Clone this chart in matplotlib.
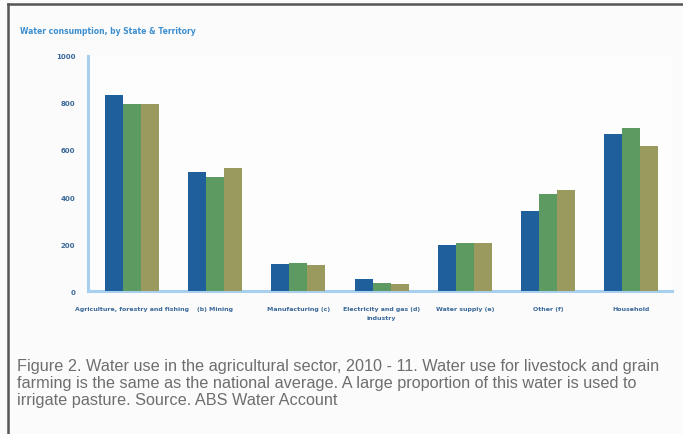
import numpy as np
import matplotlib.pyplot as plt
from matplotlib.lines import Line2D

# Water consumption by sector, three years
categories = ['Agriculture, forestry and fishing', '(b) Mining', 'Manufacturing (c)',
              'Electricity and gas (d)\nindustry', 'Water supply (e)', 'Other (f)', 'Household']
year_a = [834, 506, 115, 51, 196, 340, 668]
year_b = [796, 485, 119, 34, 204, 413, 694]
year_c = [796, 523, 110, 30, 204, 430, 617]
yticks = [0, 200, 400, 600, 800, 1000]

caption = ("Figure 2. Water use in the agricultural sector, 2010 - 11. Water use for livestock and grain\n"
           "farming is the same as the national average. A large proportion of this water is used to\n"
           "irrigate pasture. Source. ABS Water Account")

colors = ['#1f5f9c', '#5c9a62', '#9a9a5e']
axis_blue = '#a8d0ee'
label_blue = '#3a6898'

fig = plt.figure(figsize=(6.83, 4.35), dpi=100)
fig.patch.set_facecolor('#fbfbfb')

ax = fig.add_axes([0.1288, 0.3287, 0.855, 0.5403])
ax.set_facecolor('#fdfdfd')

x = np.arange(len(categories))
w = 0.216
for i, vals in enumerate([year_a, year_b, year_c]):
    ax.bar(x + (i - 1) * w, vals, width=w, color=colors[i], edgecolor='none', zorder=3)

ax.set_xlim(-0.53, 6.49)
ax.set_ylim(0, 1000)
ax.set_yticks(yticks)
ax.set_yticklabels([str(v) for v in yticks], fontsize=5, color=label_blue, fontweight='bold')
ax.set_xticks(x)
ax.set_xticklabels(categories, fontsize=4.5, color=label_blue, fontweight='bold', linespacing=1.9)
ax.tick_params(axis='y', length=0, pad=9)
ax.tick_params(axis='x', length=0, pad=11)

for side in ['top', 'right']:
    ax.spines[side].set_visible(False)
for side in ['left', 'bottom']:
    ax.spines[side].set_color(axis_blue)
    ax.spines[side].set_linewidth(2.2)

fig.text(20 / 683, 1 - 32 / 435, 'Water consumption, by State & Territory', fontsize=5.5,
         color='#3d8fd0', fontweight='bold', va='center', ha='left')

fig.text(17 / 683, 1 - 359 / 435, caption, fontsize=11.7, color='#6e6e6e',
         family=['Liberation Sans', 'DejaVu Sans'], va='top', ha='left', linespacing=1.17)

# outer frame lines
fig.add_artist(Line2D([8 / 683, 1], [1 - 5 / 435, 1 - 5 / 435], color='#555555', linewidth=1.8,
                      transform=fig.transFigure))
fig.add_artist(Line2D([8 / 683, 8 / 683], [0, 1 - 5 / 435], color='#555555', linewidth=1.8,
                      transform=fig.transFigure))

fig.savefig('out.png', dpi=100)
